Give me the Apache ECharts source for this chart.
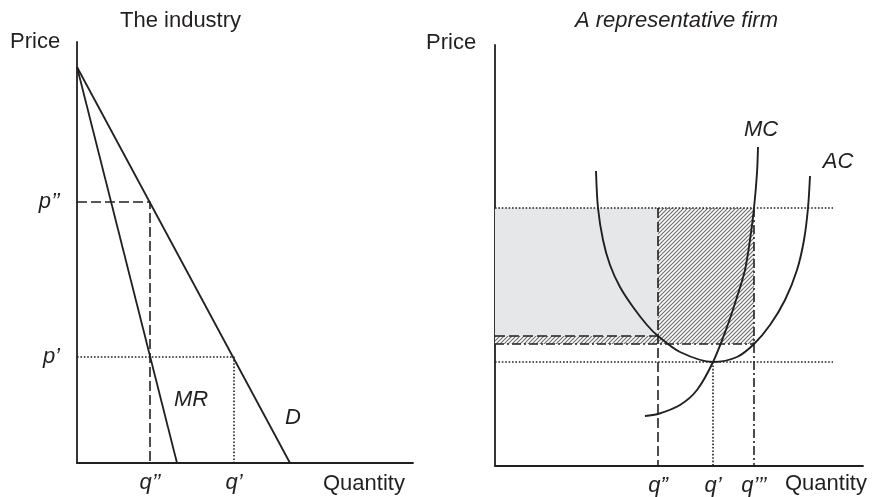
<!DOCTYPE html>
<html>
<head>
<meta charset="utf-8">
<script src="https://cdn.jsdelivr.net/npm/echarts@6/dist/echarts.min.js"></script>
<style>html,body{margin:0;padding:0;background:#fff}#c{width:875px;height:497px}</style>
</head>
<body>
<div id="c"></div>
<script>
// ---------- Data: left panel (the industry) ----------
var demandLine = [[0, 396], [213, 0]];
var mrLine = [[0, 396], [100, 0]];
var pHigh = 261, qLow = 73;      // p'' , q''
var pLow = 106, qMid = 157;      // p' , q'
var leftTickY = [{ v: pHigh, t: "p\u2019\u2019" }, { v: pLow, t: "p\u2019" }];
var leftTickX = [{ v: qLow, t: "q\u2019\u2019" }, { v: qMid, t: "q\u2019" }];

// ---------- Data: right panel (a representative firm) ----------
var mcX = [150, 163, 185, 202, 218, 232, 242, 250, 255, 259, 262, 263];
var mcY = [50, 52, 61, 76, 104, 139, 169, 196, 226, 258, 293, 319];
var acX = [101, 103, 108, 115, 125, 138, 152, 163, 185, 218, 242, 259, 275, 290, 302, 309, 313, 315];
var acY = [295, 258, 226, 201, 179, 159, 141, 130, 114, 104, 109, 122, 141, 166, 196, 226, 258, 290];
var firmPriceHigh = 258, firmPriceLow = 104;
var acAtQ2 = 130, acAtQ3 = 122;
var firmQ2 = 163, firmQ1 = 218, firmQ3 = 259, guideEnd = 338;
var rightTickX = [{ v: firmQ2, t: "q\u201D" }, { v: firmQ1, t: "q\u2019" }, { v: firmQ3, t: "q\u2019\u2019\u2019" }];

function zip(xs, ys) { return xs.map(function (x, i) { return [x, ys[i]]; }); }

var FONT = '"Liberation Sans", Arial, Helvetica, sans-serif';
var INK = '#231f20';
var DOT = [1.6, 1.8];

// hatch pattern
var hc = document.createElement('canvas');
hc.width = 4; hc.height = 4;
var hx = hc.getContext('2d');
hx.fillStyle = '#ffffff'; hx.fillRect(0, 0, 4, 4);
hx.strokeStyle = '#6f6f6f'; hx.lineWidth = 1.2;
hx.beginPath();
hx.moveTo(-1, 1); hx.lineTo(1, -1);
hx.moveTo(0, 4); hx.lineTo(4, 0);
hx.moveTo(3, 5); hx.lineTo(5, 3);
hx.stroke();
var hatch = { image: hc, repeat: 'repeat' };

function axisCommon(extra) {
  return Object.assign({
    type: 'value',
    axisLine: { show: true, onZero: false, lineStyle: { color: INK, width: 1.8 } },
    axisTick: { show: false }, axisLabel: { show: false }, splitLine: { show: false }
  }, extra);
}
function seg(data, xi, type, width, z) {
  return {
    type: 'line', xAxisIndex: xi, yAxisIndex: xi, data: data, showSymbol: false, symbol: 'none',
    silent: true, z: z || 3,
    lineStyle: { color: INK, width: width || 1.4, type: type || 'solid' }
  };
}
function labelSeries(xi, items) {
  return {
    type: 'scatter', xAxisIndex: xi, yAxisIndex: xi, symbolSize: 0, silent: true, z: 10,
    itemStyle: { opacity: 1 },
    data: items
  };
}
var lblStyle = { show: true, fontFamily: FONT, fontSize: 22, fontStyle: 'italic', color: INK, opacity: 1 };

var leftLabels = [];
leftTickY.forEach(function (d) {
  leftLabels.push({ value: [0, d.v], label: Object.assign({}, lblStyle, { formatter: d.t, position: 'left', distance: 17 }) });
});
leftTickX.forEach(function (d) {
  leftLabels.push({ value: [d.v, 0], label: Object.assign({}, lblStyle, { formatter: d.t, position: 'bottom', distance: 9 }) });
});
leftLabels.push({ value: [114, 63], label: Object.assign({}, lblStyle, { formatter: 'MR', position: 'inside' }) });
leftLabels.push({ value: [216, 45], label: Object.assign({}, lblStyle, { formatter: 'D', position: 'inside' }) });

var rightLabels = [];
rightTickX.forEach(function (d) {
  rightLabels.push({ value: [d.v, 0], label: Object.assign({}, lblStyle, { formatter: d.t, position: 'bottom', distance: 9 }) });
});
rightLabels.push({ value: [266, 336], label: Object.assign({}, lblStyle, { formatter: 'MC', position: 'inside' }) });
rightLabels.push({ value: [343, 304], label: Object.assign({}, lblStyle, { formatter: 'AC', position: 'inside' }) });

var chart = echarts.init(document.getElementById('c'), null, { renderer: 'canvas' });
chart.setOption({
  animation: false,
  backgroundColor: '#ffffff',
  grid: [
    { left: 77, top: 42, width: 336, height: 421 },
    { left: 495, top: 45, width: 368, height: 421 }
  ],
  xAxis: [axisCommon({ gridIndex: 0, min: 0, max: 336 }), axisCommon({ gridIndex: 1, min: 0, max: 368 })],
  yAxis: [axisCommon({ gridIndex: 0, min: 0, max: 421 }), axisCommon({ gridIndex: 1, min: 0, max: 421 })],
  graphic: [
    { type: 'text', left: 120, top: 10, style: { text: 'The industry', font: '22px ' + FONT, fill: INK } },
    { type: 'text', left: 575, top: 10, style: { text: 'A representative firm', font: 'italic 22px ' + FONT, fill: INK } },
    { type: 'text', left: 10, top: 31, style: { text: 'Price', font: '22px ' + FONT, fill: INK } },
    { type: 'text', left: 426, top: 32, style: { text: 'Price', font: '22px ' + FONT, fill: INK } },
    { type: 'text', left: 323, top: 473, style: { text: 'Quantity', font: '22px ' + FONT, fill: INK } },
    { type: 'text', left: 785, top: 473, style: { text: 'Quantity', font: '22px ' + FONT, fill: INK } }
  ],
  series: [
    // left panel
    seg(demandLine, 0, 'solid', 1.8),
    seg(mrLine, 0, 'solid', 1.8),
    seg([[0, pHigh], [qLow, pHigh], [qLow, 0]], 0, [10, 4], 1.6),
    seg([[0, pLow], [qMid, pLow], [qMid, 0]], 0, DOT, 1.6),
    labelSeries(0, leftLabels),
    // right panel shaded areas
    {
      type: 'line', xAxisIndex: 1, yAxisIndex: 1, data: [], z: 1, silent: true,
      markArea: {
        silent: true,
        data: [
          [{ coord: [0, firmPriceHigh], itemStyle: { color: '#e6e7e9' } }, { coord: [firmQ2, acAtQ2] }],
          [{ coord: [0, acAtQ2], itemStyle: { color: hatch } }, { coord: [firmQ2, acAtQ3] }],
          [{ coord: [firmQ2, firmPriceHigh], itemStyle: { color: hatch } }, { coord: [firmQ3, acAtQ3] }]
        ]
      }
    },
    seg([[0, firmPriceHigh], [guideEnd, firmPriceHigh]], 1, DOT, 1.6),
    seg([[0, firmPriceLow], [guideEnd, firmPriceLow]], 1, DOT, 1.6),
    seg([[0, acAtQ2], [firmQ2, acAtQ2]], 1, [10, 4], 1.6),
    seg([[0, acAtQ3], [firmQ3, acAtQ3]], 1, [9, 3, 2, 3], 1.6),
    seg([[firmQ2, firmPriceHigh], [firmQ2, 0]], 1, [10, 4], 1.6),
    seg([[firmQ1, firmPriceLow], [firmQ1, 0]], 1, DOT, 1.6),
    seg([[firmQ3, firmPriceHigh], [firmQ3, 0]], 1, [9, 3, 2, 3], 1.6),
    Object.assign(seg(zip(mcX, mcY), 1, 'solid', 1.9, 5), { smooth: 0.3 }),
    Object.assign(seg(zip(acX, acY), 1, 'solid', 1.9, 5), { smooth: 0.3 }),
    labelSeries(1, rightLabels)
  ]
});
</script>
</body>
</html>
